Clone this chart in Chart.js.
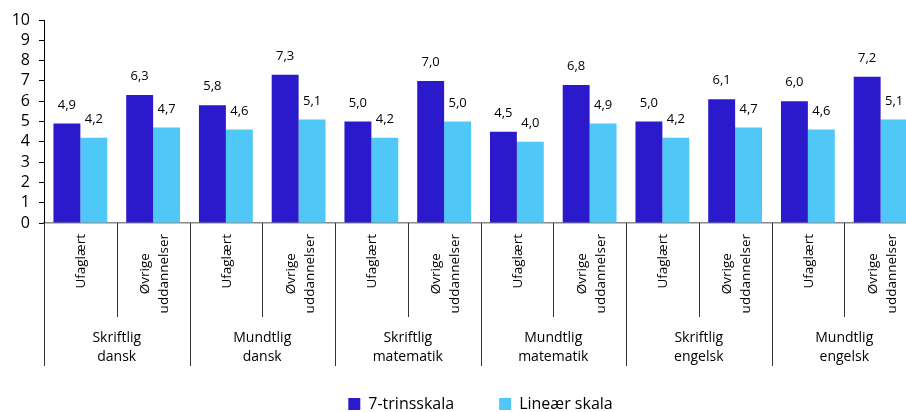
<!DOCTYPE html>
<html lang="da">
<head>
<meta charset="UTF-8" />
<title>Karakterer</title>
<script src="https://cdn.jsdelivr.net/npm/chart.js"></script>
<style>
    body {
        margin: 0;
        overflow: hidden;
        background: #fff;
        font-family: "Open Sans", sans-serif;
    }
    .chart-box {
        width: 918px; /* plot runs a bit past the right edge, like the original */
        height: 412px;
    }
</style>
</head>
<body>

<div class="chart-box">
    <canvas id="gradeChart"></canvas>
</div>

<script>
    // categories
    const subLabels = [
        "Ufaglært", ["Øvrige", "uddannelser"],
        "Ufaglært", ["Øvrige", "uddannelser"],
        "Ufaglært", ["Øvrige", "uddannelser"],
        "Ufaglært", ["Øvrige", "uddannelser"],
        "Ufaglært", ["Øvrige", "uddannelser"],
        "Ufaglært", ["Øvrige", "uddannelser"]
    ];
    const groupLabels = [
        ["Skriftlig", "dansk"],
        ["Mundtlig", "dansk"],
        ["Skriftlig", "matematik"],
        ["Mundtlig", "matematik"],
        ["Skriftlig", "engelsk"],
        ["Mundtlig", "engelsk"]
    ];

    // series
    const seriesNames = ["7-trinsskala", "Lineær skala"];
    const trinValues = [4.9, 6.3, 5.8, 7.3, 5.0, 7.0, 4.5, 6.8, 5.0, 6.1, 6.0, 7.2];
    const linearValues = [4.2, 4.7, 4.6, 5.1, 4.2, 5.0, 4.0, 4.9, 4.2, 4.7, 4.6, 5.1];

    // y axis
    const yMin = 0;
    const yMax = 10;
    const yStep = 1;

    const darkBlue = "#2a1acb";
    const lightBlue = "#4fc8f8";

    // offsets below the x axis line (px)
    const subLabelTop = 11;
    const subLineEnd = 94;
    const groupTextY = [115, 134];
    const groupLineEnd = 143;

    function fmt(v) {
        return v.toFixed(1).replace(".", ",");
    }

    // value labels above each bar
    const valueLabels = {
        id: "valueLabels",
        afterDatasetsDraw(chart) {
            const ctx = chart.ctx;
            ctx.save();
            ctx.font = "13px 'Open Sans'";
            ctx.fillStyle = "#000";
            ctx.textAlign = "center";
            ctx.textBaseline = "bottom";
            chart.data.datasets.forEach((ds, di) => {
                const meta = chart.getDatasetMeta(di);
                meta.data.forEach((bar, i) => {
                    ctx.fillText(fmt(ds.data[i]), bar.x, bar.y - 12);
                });
            });
            ctx.restore();
        }
    };

    // two-level category axis: rotated sub labels, group labels, separators
    const categoryAxis = {
        id: "categoryAxis",
        afterDraw(chart) {
            const x = chart.scales.x;
            const ctx = chart.ctx;
            const n = subLabels.length;
            ctx.save();
            ctx.fillStyle = "#000";

            // rotated sub labels, lines centred on each other like Excel does
            const lh = 19;
            ctx.font = "13.5px 'Open Sans'";
            ctx.textAlign = "center";
            ctx.textBaseline = "middle";
            subLabels.forEach((lab, i) => {
                const lines = Array.isArray(lab) ? lab : [lab];
                const w = Math.max(...lines.map(l => ctx.measureText(l).width));
                const px = x.getPixelForValue(i) + (lines.length > 1 ? 2 : 1);
                ctx.save();
                ctx.translate(px, x.top + subLabelTop);
                ctx.rotate(-Math.PI / 2);
                lines.forEach((l, j) => {
                    ctx.fillText(l, -w / 2, (j - (lines.length - 1) / 2) * lh);
                });
                ctx.restore();
            });

            // group labels centred under each pair
            ctx.font = "14px 'Open Sans'";
            groupLabels.forEach((lab, g) => {
                const px = (x.getPixelForValue(2 * g) + x.getPixelForValue(2 * g + 1)) / 2;
                lab.forEach((l, j) => ctx.fillText(l, px, x.top + groupTextY[j]));
            });

            // separators
            ctx.strokeStyle = "#333";
            ctx.lineWidth = 1;
            for (let i = 0; i <= n; i++) {
                let px;
                if (i === 0) px = x.left;
                else if (i === n) px = x.right;
                else px = (x.getPixelForValue(i - 1) + x.getPixelForValue(i)) / 2;
                px = Math.round(px) + 0.5;
                const end = (i % 2 === 0) ? groupLineEnd : subLineEnd;
                ctx.beginPath();
                ctx.moveTo(px, x.top);
                ctx.lineTo(px, x.top + end);
                ctx.stroke();
            }
            ctx.restore();
        }
    };

    const ctx = document.getElementById("gradeChart").getContext("2d");
    new Chart(ctx, {
        type: "bar",
        data: {
            labels: subLabels,
            datasets: [
                {
                    label: seriesNames[0],
                    data: trinValues,
                    backgroundColor: darkBlue,
                    categoryPercentage: 0.74,
                    barPercentage: 1.0
                },
                {
                    label: seriesNames[1],
                    data: linearValues,
                    backgroundColor: lightBlue,
                    categoryPercentage: 0.74,
                    barPercentage: 1.0
                }
            ]
        },
        options: {
            responsive: true,
            maintainAspectRatio: false,
            animation: false,
            layout: { padding: { top: 20, right: 1, left: 0, bottom: -10 } },
            plugins: {
                legend: {
                    position: "bottom",
                    fullSize: false,
                    labels: {
                        boxWidth: 12,
                        boxHeight: 12,
                        padding: 45,
                        color: "#000",
                        font: { family: "'Open Sans'", size: 16 }
                    }
                },
                tooltip: { enabled: false }
            },
            scales: {
                x: {
                    grid: { display: false },
                    border: { color: "#888", width: 1.5 },
                    ticks: { display: false },
                    afterFit(scale) { scale.height = 128; }
                },
                y: {
                    min: yMin,
                    max: yMax,
                    ticks: {
                        stepSize: yStep,
                        autoSkip: false,
                        color: "#000",
                        font: { family: "'Open Sans'", size: 16 },
                        padding: 9
                    },
                    grid: {
                        drawOnChartArea: false,
                        drawTicks: true,
                        tickLength: 5,
                        color: "#000"
                    },
                    border: { color: "#000" },
                    afterFit(scale) { scale.width = 44; }
                }
            }
        },
        plugins: [valueLabels, categoryAxis]
    });
</script>

</body>
</html>
